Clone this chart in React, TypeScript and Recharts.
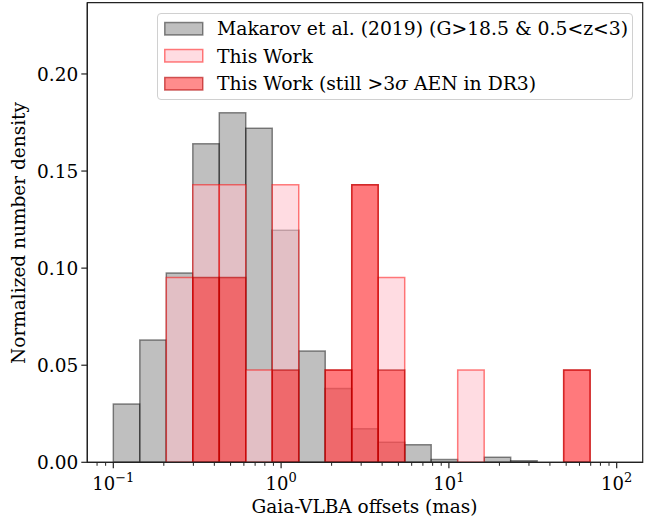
import { ComposedChart, XAxis, YAxis, Line, ReferenceArea } from 'recharts';

// log-spaced bin edges (mas), 19 bins from 0.1 to 100
const binEdges = [
  0.1, 0.14384, 0.2069, 0.29761, 0.42808, 0.61575, 0.8857, 1.274, 1.8325, 2.6359, 3.7915,
  5.4537, 7.8446, 11.284, 16.23, 23.346, 33.581, 48.303, 69.479, 100,
];

// normalized number density per bin
const makarov = [
  0.030, 0.063, 0.0975, 0.164, 0.180, 0.172, 0.1195, 0.0573, 0.038, 0.0173, 0.0103, 0.0091,
  0.0014, 0, 0.0026, 0.0008, 0, 0, 0,
];
const thisWork = [
  0, 0, 0.0952, 0.1429, 0.1429, 0.0476, 0.1429, 0, 0.0476, 0.1429, 0.0952, 0, 0, 0.0476, 0, 0,
  0, 0.0476, 0,
];
const stillAen = [
  0, 0, 0, 0.0952, 0.0952, 0, 0.0476, 0, 0.0476, 0.1429, 0.0476, 0, 0, 0, 0, 0, 0, 0.0476, 0,
];

const majorTicks = [0.1, 1, 10, 100];
const minorTicks = [
  0.08, 0.09, 0.2, 0.3, 0.4, 0.5, 0.6, 0.7, 0.8, 0.9, 2, 3, 4, 5, 6, 7, 8, 9, 20, 30, 40, 50,
  60, 70, 80, 90,
];
const yTicks = [0, 0.05, 0.1, 0.15, 0.2];

const X_DOMAIN: [number, number] = [Math.pow(10, -1.155), Math.pow(10, 2.155)];
const Y_MAX = 0.2367;

const FONT = '"DejaVu Serif", serif';

const SERIES = [
  { name: 'Makarov et al. (2019) (G>18.5 & 0.5<z<3)', values: makarov, fill: '#808080', fillOpacity: 0.5, stroke: '#000000', strokeOpacity: 0.45 },
  { name: 'This Work', values: thisWork, fill: '#ffc0cb', fillOpacity: 0.55, stroke: '#ff0000', strokeOpacity: 0.5 },
  { name: 'This Work (still >3σ AEN in DR3)', values: stillAen, fill: '#ff0000', fillOpacity: 0.45, stroke: '#b00000', strokeOpacity: 0.6 },
];

const rows = makarov.map((v, i) => ({ x: Math.sqrt(binEdges[i] * binEdges[i + 1]), gray: v }));

function XTick(props: any) {
  const { x, y, payload } = props;
  const v = payload.value;
  const lg = Math.log10(v);
  const major = Math.abs(lg - Math.round(lg)) < 1e-6;
  if (!major) {
    return <line x1={x} x2={x} y1={y} y2={y + 3.5} stroke="#222" strokeWidth={1} />;
  }
  const exp = Math.round(lg);
  const expStr = exp < 0 ? '\u2212' + Math.abs(exp) : String(exp);
  return (
    <g>
      <line x1={x} x2={x} y1={y} y2={y + 6} stroke="#222" strokeWidth={1.2} />
      <text x={x} y={y + 28} textAnchor="middle" fontFamily={FONT} fontSize={18} fill="#000">
        <tspan>10</tspan>
        <tspan dy={-8} fontSize={13}>{expStr}</tspan>
      </text>
    </g>
  );
}

function YTick(props: any) {
  const { x, y, payload } = props;
  return (
    <g>
      <line x1={x - 6} x2={x} y1={y} y2={y} stroke="#222" strokeWidth={1.2} />
      <text x={x - 9} y={y} dy="0.36em" textAnchor="end" fontFamily={FONT} fontSize={18.5} fill="#000">
        {payload.value.toFixed(2)}
      </text>
    </g>
  );
}

function legendLabel(name: string) {
  const k = name.indexOf('σ');
  if (k < 0) return name;
  return (
    <>
      {name.slice(0, k)}
      <i>σ</i>
      {name.slice(k + 1)}
    </>
  );
}

function LegendBox() {
  return (
    <div
      style={{
        position: 'absolute',
        left: 157,
        top: 13,
        width: 476,
        height: 87,
        border: '1px solid #d0d0d0',
        borderRadius: 4,
        background: 'rgba(255,255,255,0.8)',
        fontFamily: FONT,
        fontSize: 18.8,
        boxSizing: 'border-box',
        paddingTop: 1,
      }}
    >
      {SERIES.map((s) => (
        <div key={s.name} style={{ display: 'flex', alignItems: 'center', height: 27.5, whiteSpace: 'nowrap' }}>
          <svg width={40} height={16} style={{ marginLeft: 6, flex: 'none' }}>
            <rect x={0.75} y={1.5} width={38} height={12.5} fill={s.fill} fillOpacity={s.fillOpacity} stroke={s.stroke} strokeOpacity={s.strokeOpacity} strokeWidth={1.5} />
          </svg>
          <span style={{ marginLeft: 13 }}>{legendLabel(s.name)}</span>
        </div>
      ))}
    </div>
  );
}

export default function App() {
  return (
    <div style={{ position: 'absolute', left: 0, top: 0, width: 657, height: 518, background: '#fff' }}>
      <ComposedChart
        width={657}
        height={518}
        data={rows}
        margin={{ top: 2.7, right: 14.3, bottom: 25.7, left: 27.3 }}
      >
        <XAxis
          dataKey="x"
          type="number"
          scale="log"
          domain={X_DOMAIN}
          allowDataOverflow
          ticks={[...majorTicks, ...minorTicks]}
          interval={0}
          height={30}
          tickSize={0}
          tickMargin={0}
          tickLine={false}
          axisLine={{ stroke: '#222', strokeWidth: 1.2 }}
          tick={<XTick />}
          label={{
            content: () => (
              <text x={364.5} y={513} textAnchor="middle" fontFamily={FONT} fontSize={18.5} fill="#000">
                Gaia-VLBA offsets (mas)
              </text>
            ),
          }}
        />
        <YAxis
          type="number"
          domain={[0, Y_MAX]}
          allowDataOverflow
          ticks={yTicks}
          interval={0}
          width={60}
          tickSize={0}
          tickMargin={0}
          tickLine={false}
          axisLine={{ stroke: '#222', strokeWidth: 1.2 }}
          tick={<YTick />}
          label={{
            content: () => (
              <text x={25} y={233} transform="rotate(-90, 25, 233)" textAnchor="middle" fontFamily={FONT} fontSize={18.5} fill="#000">
                Normalized number density
              </text>
            ),
          }}
        />
        <Line dataKey="gray" stroke="none" dot={false} activeDot={false} legendType="none" isAnimationActive={false} />
        {SERIES.map((s) =>
          s.values.map((v, i) =>
            v > 0 ? (
              <ReferenceArea
                key={s.name + i}
                x1={binEdges[i]}
                x2={binEdges[i + 1]}
                y1={0}
                y2={v}
                fill={s.fill}
                fillOpacity={s.fillOpacity}
                stroke={s.stroke}
                strokeOpacity={s.strokeOpacity}
                strokeWidth={1.5}
                ifOverflow="visible"
              />
            ) : null,
          ),
        )}
        <ReferenceArea x1={X_DOMAIN[0]} x2={X_DOMAIN[1]} y1={0} y2={Y_MAX} fill="none" stroke="#222" strokeWidth={1.2} ifOverflow="visible" />
      </ComposedChart>
      <LegendBox />
    </div>
  );
}
